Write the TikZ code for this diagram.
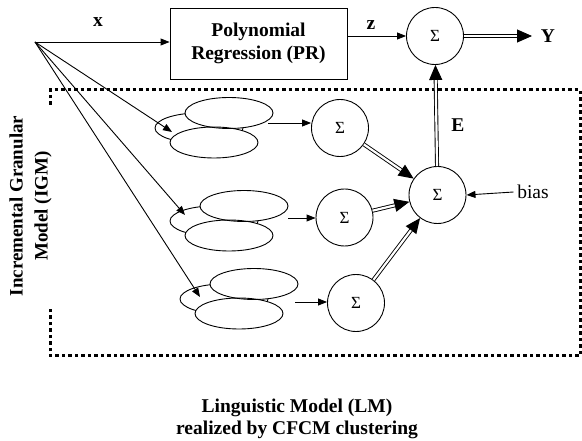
\documentclass[tikz,border=0pt]{standalone}
\usepackage{fontspec}
\setmainfont{Liberation Serif}
\usetikzlibrary{arrows.meta}
\begin{document}
\begin{tikzpicture}[x=1pt,y=-1pt,line width=0.9pt,
  lab/.style={font=\fontsize{19.5}{23}\selectfont\bfseries},
  sig/.style={circle,draw,minimum size=57pt,inner sep=0pt,font=\fontsize{17}{18}\selectfont},
  sarrow/.style={-{Triangle[length=9pt,width=7pt]}},
  darrow/.style={double,double distance=2.2pt,-{Triangle[length=15pt,width=13pt]}},
  dotline/.style={line width=3pt,dash pattern=on 3.5pt off 3pt},
  ell/.style={line width=0.9pt}]
\useasboundingbox (0,0) rectangle (582,441);
% dotted frame
\draw[dotline] (50,105) -- (50,90) -- (580,90) -- (580,356) -- (50,356) -- (50,308);
% source
\coordinate (src) at (35,42);
% polynomial regression box
\node[draw,minimum width=177pt,minimum height=71pt,inner sep=0pt,align=center,lab] (pr) at (258.5,43.5) {Polynomial\\Regression (PR)};
% top sigma
\node[sig] (top) at (435,36) {Σ};
\node[lab] (xl) at (98,22) {x};
\node[lab] (zl) at (371,25) {z};
\node[lab] (yl) at (548,36) {Y};
\node[lab] (el) at (458,125) {E};
\coordinate (yend) at (532,36);
\draw[sarrow] (src) -- (src -| pr.west);
\draw[sarrow] (top.west -| pr.east) -- (top.west);
\draw[darrow] (top.east) -- (yend);
% ellipse groups
\foreach \cx/\cy [count=\i] in {229/113,244/206,254/284}{
  \fill[white,draw=black,ell] (\cx-30,\cy+15) ellipse (44pt and 15pt);
  \fill[white] (\cx,\cy) ellipse (44pt and 15.5pt);
  \fill[white] (\cx-15,\cy+29.5) ellipse (44pt and 15.5pt);
  \draw[ell] (\cx,\cy) ellipse (44pt and 15.5pt);
  \draw[ell] (\cx-15,\cy+29.5) ellipse (44pt and 15.5pt);
}
\coordinate (t1) at (172,132);
\coordinate (t2) at (185,215);
\coordinate (t3) at (200,297);
\draw[sarrow] (src) -- (t1);
\draw[sarrow] (src) -- (t2);
\draw[sarrow] (src) -- (t3);
% sigma nodes
\node[sig] (s1) at (340,128) {Σ};
\node[sig] (s2) at (344.5,217.5) {Σ};
\node[sig] (s3) at (356,303) {Σ};
\node[sig] (big) at (437.5,195) {Σ};
\coordinate (g1) at (268,123);
\coordinate (g2) at (288,218);
\coordinate (g3) at (295,302);
\draw[sarrow] (g1) -- (g1 -| s1.west);
\draw[sarrow] (g2) -- (g2 -| s2.west);
\draw[sarrow] (g3) -- (g3 -| s3.west);
\draw[darrow] (s1) -- (big);
\draw[darrow] (s2) -- (big);
\draw[darrow] (s3) -- (big);
\draw[darrow] (big) -- (top);
\node[font=\fontsize{19.5}{23}\selectfont] (bias) at (533,192) {bias};
\draw[sarrow] (bias.west) -- (big.east);
% left label
\node[rotate=90,align=center,font=\fontsize{19}{25}\selectfont\bfseries] (igm) at (30.5,206) {Incremental Granular\\Model (IGM)};
% bottom label
\node[align=center,font=\fontsize{19.5}{22}\selectfont\bfseries] (lm) at (297,419) {Linguistic Model (LM)\\realized by CFCM clustering};
\end{tikzpicture}
\end{document}
